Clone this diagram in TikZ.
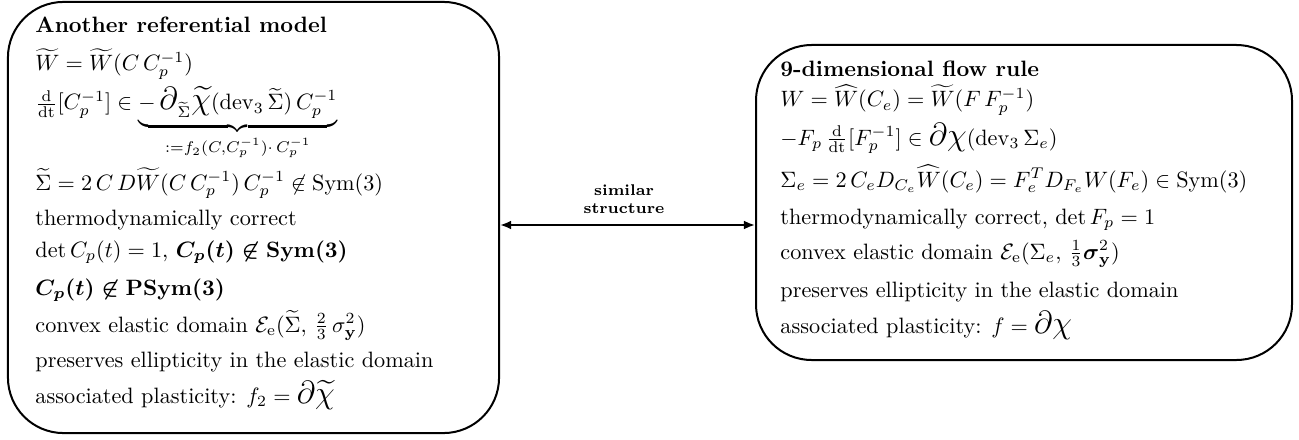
\documentclass[tikz,border=0pt]{standalone}
\usepackage{amsmath,amssymb}
\usetikzlibrary{arrows.meta,calc}
\begin{document}
\begin{tikzpicture}[x=0.45pt,y=-0.45pt,
  box/.style={draw,line width=0.9pt,rounded corners=25pt,inner sep=0pt},
  txt/.style={anchor=base west,inner sep=0pt,font=\normalsize},
  lbl/.style={align=center,inner sep=0pt,font=\scriptsize\bfseries}]
\useasboundingbox (0,0) rectangle (1299,439);
\node[box,minimum width=221pt,minimum height=194pt] (L) at (253.5,217.5) {};
\node[box,minimum width=241.2pt,minimum height=141.75pt] (R) at (1024,202.5) {};
% left box text
\node[txt] (l1) at (35,33) {\textbf{Another referential model}};
\node[txt] (l2) at (35,71) {$\widetilde W=\widetilde W(C\,C_p^{-1})$};
\node[txt] (l3) at (35,110) {$\tfrac{\mathrm d}{\mathrm{dt}}[C_p^{-1}]\in\underbrace{-\,\mbox{\Large$\partial$}_{\widetilde\Sigma}\mbox{\Large$\widetilde\chi$}(\mathrm{dev}_3\,\widetilde\Sigma)\,C_p^{-1}}_{:=f_2(C,C_p^{-1})\cdot\,C_p^{-1}}$};
\node[txt] (l4) at (35,190) {$\widetilde\Sigma=2\,C\,D\widetilde W(C\,C_p^{-1})\,C_p^{-1}\not\in\mathrm{Sym}(3)$};
\node[txt] (l5) at (35,225) {thermodynamically correct};
\node[txt] (l6) at (35,257) {$\det C_p(t)=1$, {\boldmath$C_p(t)\not\in\mathrm{Sym}(3)$}};
\node[txt] (l7) at (35,295) {{\boldmath$C_p(t)\not\in\mathrm{PSym}(3)$}};
\node[txt] (l8) at (35,332) {convex elastic domain $\mathcal E_{\mathrm e}(\widetilde\Sigma,\,\frac23\,\sigma_{\mathbf y}^2)$};
\node[txt] (l9) at (35,367) {preserves ellipticity in the elastic domain};
\node[txt] (l10) at (35,403) {associated plasticity: $f_2=\mbox{\Large$\partial\widetilde\chi$}$};
% right box text
\node[txt] (r1) at (780,77) {\textbf{9-dimensional flow rule}};
\node[txt] (r2) at (780,107) {$W=\widehat W(C_e)=\widetilde W(F\,F_p^{-1})$};
\node[txt] (r3) at (780,145) {$-F_p\,\tfrac{\mathrm d}{\mathrm{dt}}[F_p^{-1}]\in\mbox{\Large$\partial\chi$}(\mathrm{dev}_3\,\Sigma_e)$};
\node[txt] (r4) at (780,187) {$\Sigma_e=2\,C_eD_{C_e}\widehat W(C_e)=F_e^TD_{F_e}W(F_e)\in\mathrm{Sym}(3)$};
\node[txt] (r5) at (780,224) {thermodynamically correct, $\det F_p=1$};
\node[txt] (r6) at (780,259) {convex elastic domain $\mathcal E_{\mathrm e}(\Sigma_e,\,\frac13\boldsymbol\sigma_{\mathbf y}^2)$};
\node[txt] (r7) at (780,297) {preserves ellipticity in the elastic domain};
\node[txt] (r8) at (780,333) {associated plasticity: $f=\mbox{\Large$\partial\chi$}$};
% connector
\coordinate (ya) at (0,225);
\draw[line width=0.9pt,{Latex[length=5pt,width=4pt]}-{Latex[length=5pt,width=4pt]}] (L.east |- ya) -- (R.west |- ya);
\node[lbl] (sim) at (624,199) {similar\\structure};
\end{tikzpicture}
\end{document}
